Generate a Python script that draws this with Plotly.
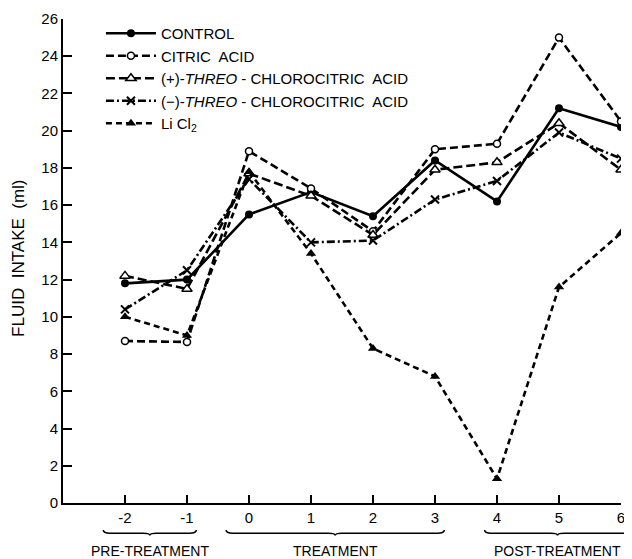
import plotly.graph_objects as go

days = [-2, -1, 0, 1, 2, 3, 4, 5, 6]
tick_labels = ["-2", "-1", "0", "1", "2", "3", "4", "5", "6"]

control = [11.8, 12.0, 15.5, 16.7, 15.4, 18.4, 16.2, 21.2, 20.2]
citric_acid = [8.7, 8.65, 18.9, 16.9, 14.6, 19.0, 19.3, 25.0, 20.5]
plus_threo = [12.2, 11.5, 17.7, 16.5, 14.4, 17.9, 18.3, 20.4, 17.9]
minus_threo = [10.4, 12.5, 17.4, 14.0, 14.1, 16.3, 17.3, 19.9, 18.5]
licl2 = [10.0, 9.0, 17.8, 13.4, 8.3, 6.8, 1.3, 11.6, 14.5]

names = [
    "CONTROL",
    "CITRIC  ACID",
    "(+)-<i>THREO</i> - CHLOROCITRIC  ACID",
    "(\u2212)-<i>THREO</i> - CHLOROCITRIC  ACID",
    "Li Cl<sub>2</sub>",
]
series = [control, citric_acid, plus_threo, minus_threo, licl2]

styles = [
    dict(dash="solid", marker=dict(symbol="circle", size=8, color="black")),
    dict(dash="8px,4px", marker=dict(symbol="circle", size=7, color="white",
                                      line=dict(color="black", width=1.5))),
    dict(dash="9px,4px", marker=dict(symbol="triangle-up", size=9, color="white",
                                      line=dict(color="black", width=1.5))),
    dict(dash="8px,3px,2px,3px", marker=dict(symbol="x-thin-open", size=8, color="black",
                                              line=dict(color="black", width=2))),
    dict(dash="6px,4px", marker=dict(symbol="triangle-up", size=9, color="black")),
]

FONT = "Liberation Sans, Arial, sans-serif"

fig = go.Figure()
for i, (nm, ys, st) in enumerate(zip(names, series, styles)):
    fig.add_trace(go.Scatter(
        x=days, y=ys, name=nm, mode="lines+markers",
        line=dict(color="black", width=2.6, dash=st["dash"]),
        marker=st["marker"], legendgroup=f"g{i}",
    ))

x_min, x_max = -3, 6


def xp(v):
    return (v - x_min) / (x_max - x_min)


# braces under the x axis (decorations)
braces = [(-2.35, -0.85, "PRE-TREATMENT"), (-0.37, 3.15, "TREATMENT"), (3.8, 6.15, "POST-TREATMENT")]
yt, ym, yc = -0.056, -0.0625, -0.067
for a, b, label in braces:
    x0, x1 = xp(a), xp(b)
    xc = (x0 + x1) / 2
    r = 0.012
    path = (f"M{x0},{yt} Q{x0},{ym} {x0 + r},{ym} L{xc - r},{ym} "
            f"Q{xc},{ym} {xc},{yc} Q{xc},{ym} {xc + r},{ym} L{x1 - r},{ym} "
            f"Q{x1},{ym} {x1},{yt}")
    fig.add_shape(type="path", path=path, xref="paper", yref="paper",
                  line=dict(color="black", width=1.5))
    fig.add_annotation(x=xc, y=-0.099, xref="paper", yref="paper", text=label,
                       showarrow=False, font=dict(size=14, color="black", family=FONT),
                       xanchor="center", yanchor="middle")

fig.add_annotation(x=-0.081, y=0.506, xref="paper", yref="paper",
                   text="FLUID \u00a0INTAKE \u00a0(ml)", textangle=-90, showarrow=False,
                   font=dict(size=17, color="black", family=FONT),
                   xanchor="center", yanchor="middle")

# the page body has an 8px margin; shrink the figure so the plot area lands where the reference has it
fig.update_layout(
    width=624, height=551,
    margin=dict(l=55, r=11, t=11, b=56, autoexpand=False),
    paper_bgcolor="white", plot_bgcolor="white",
    font=dict(family=FONT, color="black"),
    showlegend=True,
    legend=dict(x=0.068, y=1.004, xanchor="left", yanchor="top",
                font=dict(size=15, color="black", family=FONT),
                bgcolor="rgba(0,0,0,0)", itemwidth=50, tracegroupgap=0),
    xaxis=dict(range=[x_min, x_max], tickvals=days, ticktext=tick_labels,
               automargin=False,
               showgrid=False, zeroline=False, showline=True, linecolor="black",
               linewidth=2, ticks="inside", ticklen=8, tickwidth=1.5, tickcolor="black",
               tickfont=dict(size=15, color="black", family=FONT)),
    yaxis=dict(range=[0, 26], tickvals=list(range(0, 27, 2)),
               automargin=False,
               showgrid=False, zeroline=False, showline=True, linecolor="black",
               linewidth=2, ticks="inside", ticklen=9, tickwidth=1.5, tickcolor="black",
               tickfont=dict(size=15, color="black", family=FONT)),
)

fig.write_html("out.html")
